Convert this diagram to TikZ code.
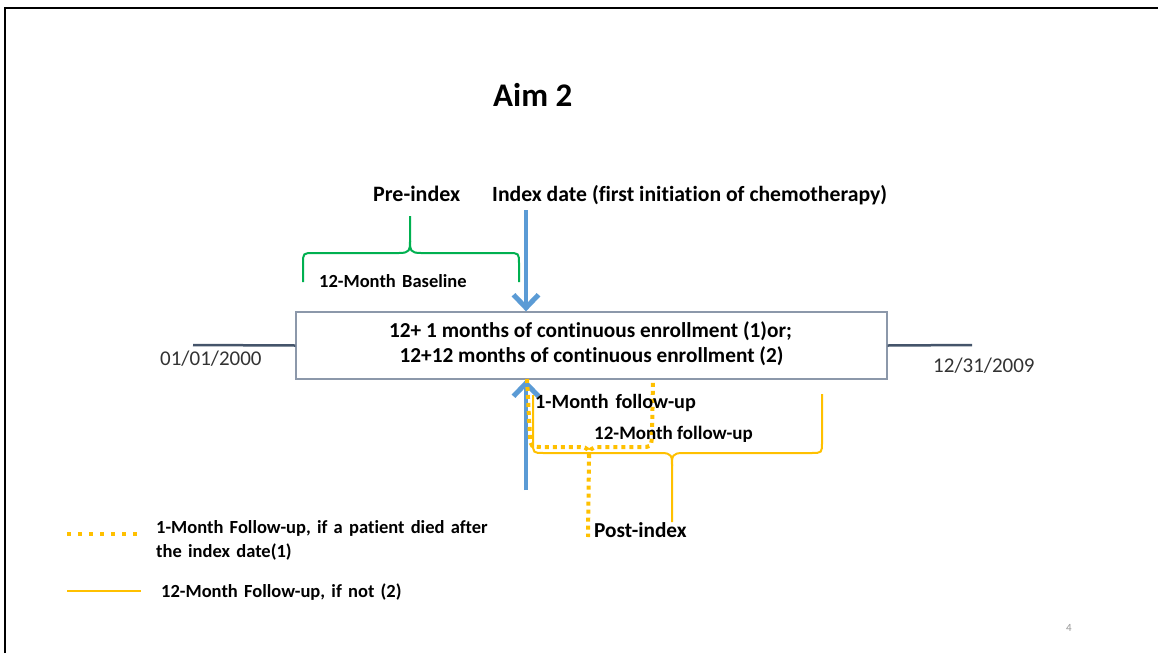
\documentclass[tikz,border=0pt]{standalone}
\usepackage{fontspec}
\setmainfont{Carlito}[Ligatures=NoCommon]
\newfontfamily\widefont[WordSpace=1.5,Ligatures=NoCommon]{Carlito}
\usetikzlibrary{arrows.meta}
\definecolor{gold}{RGB}{255,192,0}
\definecolor{skyb}{RGB}{91,155,213}
\definecolor{grn}{RGB}{0,176,80}
\definecolor{slate}{RGB}{68,84,106}
\definecolor{boxgray}{RGB}{140,152,170}
\definecolor{pgnum}{RGB}{150,150,150}
\tikzset{
  frameline/.style={line width=2pt, black},
  bt/.style={inner sep=0, font=\bfseries\fontsize{#1}{#1}\selectfont},
  bt/.default=21.3,
  wt/.style={inner sep=0, font=\widefont\bfseries\fontsize{#1}{#1}\selectfont},
  rt/.style={inner sep=0, font=\fontsize{21}{21}\selectfont, text=black!80},
  tline/.style={line width=2.5pt, slate},
  bluearrow/.style={line width=4.5pt, skyb, -{Straight Barb[length=13pt,width=25pt,line width=5pt]}},
  greenbrace/.style={line width=2pt, grn},
  solidgold/.style={line width=2pt, gold},
  dotgold/.style={line width=4pt, gold, dash pattern=on 4pt off 4pt},
}
\begin{document}
\begin{tikzpicture}[x=1pt,y=-1pt]
\useasboundingbox (0,0) rectangle (1158,653);
\draw[frameline] (5,653) -- (5,8) -- (1158,8);

% title and headings
\node[bt=33, anchor=base west] (title) at (493,106) {Aim 2};
\node[bt=22, anchor=base west] (pre) at (373,201) {Pre-index};
\node[bt=21.7, anchor=base west] (idx) at (492,201) {Index date (first initiation of chemotherapy)};

% green brace
\draw[greenbrace] (303,282) -- (303,264) .. controls (303,253) .. (314,253) -- (399,253)
  .. controls (410,253) and (410,250) .. (410,241) -- (410,216);
\draw[greenbrace] (410,241) .. controls (410,250) and (410,253) .. (421,253) -- (508,253)
  .. controls (519,253) .. (519,264) -- (519,282);
\node[wt=18.5, anchor=base west] (base) at (319,287) {12-Month Baseline};

% box
\node[draw=boxgray, line width=1.3pt, minimum width=591pt, minimum height=67pt, inner sep=0] (box) at (591.5,345.5) {};
\node[bt, anchor=base] (l1) at (590.5,337) {12+ 1 months of continuous enrollment (1)or;};
\node[bt, anchor=base] (l2) at (591.5,362) {12+12 months of continuous enrollment (2)};

% timeline
\coordinate (tstart) at (193,345);
\coordinate (tend) at (972,345);
\draw[tline] (tstart) -- (box.west);
\draw[tline] (box.east) -- (tend);
\node[rt, anchor=base west] (d1) at (160,365) {01/01/2000};
\node[rt, anchor=base west] (d2) at (933,372) {12/31/2009};

% blue arrows
\coordinate (dtop) at (526,210);
\coordinate (ubot) at (526,490);
\draw[bluearrow] (dtop) -- (box.north -| dtop);
\draw[bluearrow] (ubot) -- (box.south -| ubot);

% solid gold brace (12-month follow-up)
\draw[solidgold] (533,395) -- (533,442) .. controls (533,453) .. (544,453) -- (661,453)
  .. controls (672,453) and (672,456) .. (672,466) -- (672,522);
\draw[solidgold] (672,466) .. controls (672,456) and (672,453) .. (683,453) -- (811,453)
  .. controls (822,453) .. (822,442) -- (822,394);

% dotted gold brace (1-month follow-up)
\draw[dotgold] (527,379) -- (530,437) .. controls (531,447) .. (541,447) -- (579,447)
  .. controls (589,447) and (589,450) .. (589,458) -- (588,537);
\draw[dotgold] (589,458) .. controls (589,450) and (590,447) .. (600,447) -- (641,447)
  .. controls (651,447) .. (652,437) -- (653,379);

\node[wt=20.2, anchor=base west] (f1) at (535,408) {1-Month follow-up};
\node[bt=19, anchor=base west] (f12) at (594,439) {12-Month follow-up};
\node[bt, anchor=base west] (post) at (594,537) {Post-index};

% legend
\coordinate (lg1a) at (67,534);
\coordinate (lg1b) at (139,534);
\coordinate (lg2a) at (67,591);
\coordinate (lg2b) at (141,591);
\draw[line width=4pt, gold, dash pattern=on 4pt off 7pt] (lg1a) -- (lg1b);
\draw[solidgold] (lg2a) -- (lg2b);
\node[wt=18.5, anchor=base west] (lt1) at (156,533) {1-Month Follow-up, if a patient died after};
\node[wt=18.5, anchor=base west] (lt1b) at (156,557) {the index date(1)};
\node[wt=18.5, anchor=base west] (lt2) at (161,597) {12-Month Follow-up, if not (2)};

\node[inner sep=0, font=\fontsize{11}{11}\selectfont, text=pgnum] (pg) at (1069,628) {4};
\end{tikzpicture}
\end{document}
